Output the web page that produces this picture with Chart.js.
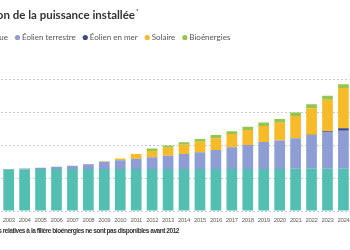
<!DOCTYPE html>
<html>
<head>
<meta charset="utf-8">
<script src="https://cdn.jsdelivr.net/npm/chart.js@4"></script>
<style>
  html, body { margin: 0; padding: 0; background: #fff; overflow: hidden; width: 350px; height: 250px; }
  canvas { position: absolute; left: 0; top: 0; }
</style>
</head>
<body>
<canvas id="chart" width="352" height="250"></canvas>
<script>
// puissance installée (GW), France
const years = ['2003', '2004', '2005', '2006', '2007', '2008', '2009', '2010', '2011', '2012', '2013',
  '2014', '2015', '2016', '2017', '2018', '2019', '2020', '2021', '2022', '2023', '2024'];
const hydraulique = [25.3, 25.3, 25.4, 25.4, 25.4, 25.4, 25.4, 25.4, 25.4, 25.4, 25.5,
  25.5, 25.5, 25.5, 25.5, 25.5, 25.5, 25.5, 25.6, 25.6, 25.6, 25.6];
const eolienTerrestre = [0.2, 0.4, 0.8, 1.4, 2.0, 3.0, 4.4, 5.4, 6.3, 7.2, 8.0,
  9.0, 10.1, 11.5, 13.1, 14.5, 16.3, 17.3, 18.5, 20.1, 22.0, 23.0];
const eolienMer = [0, 0, 0, 0, 0, 0, 0, 0, 0, 0, 0,
  0, 0, 0, 0, 0, 0, 0, 0, 0.5, 0.8, 1.5];
const solaire = [0, 0, 0, 0, 0, 0.1, 0.3, 1.0, 2.8, 3.8, 4.8,
  5.6, 6.4, 7.1, 8.1, 9.1, 9.7, 10.7, 13.5, 16.1, 19.0, 24.5];
const bioenergies = [null, null, null, null, null, null, null, null, null, 1.5, 1.4,
  1.5, 1.6, 1.9, 1.6, 2.0, 2.2, 2.3, 2.1, 2.4, 2.4, 2.2];
const yTicks = { min: 0, max: 80, step: 20 };

const seriesNames = ['Hydraulique', 'Éolien terrestre', 'Éolien en mer', 'Solaire', 'Bioénergies'];
const colors = ['#52bfb2', '#8e9dd3', '#3f4b86', '#f7bb29', '#94c64e'];
const titleText = 'Évolution de la puissance installée';
const noteText = '* Les données relatives à la filière bioénergies ne sont pas disponibles avant 2012';

const decorPlugin = {
  id: 'decor',
  beforeDraw(chart) {
    // chiffres plus serrés, comme la police condensée d'origine
    chart.ctx.letterSpacing = '-0.35px';
  },
  afterDraw(chart) {
    const ctx = chart.ctx;
    ctx.save();
    ctx.letterSpacing = '0px';
    // titre (coupé à gauche)
    ctx.fillStyle = '#333';
    ctx.font = 'bold 11.5px Lato';
    ctx.textBaseline = 'alphabetic';
    ctx.textAlign = 'right';
    ctx.fillText(titleText, 135, 18.5);
    ctx.font = 'bold 6px Lato';
    ctx.textAlign = 'left';
    ctx.fillText('*', 136, 13);

    // légende
    ctx.font = '8px Lato';
    ctx.textBaseline = 'middle';
    const legendY = 37.5;
    let x = 8 - ctx.measureText(seriesNames[0]).width;
    seriesNames.forEach((name, i) => {
      if (i > 0) {
        const dotX = x + 9.5;
        ctx.fillStyle = colors[i];
        ctx.beginPath();
        ctx.arc(dotX, legendY, 2.6, 0, Math.PI * 2);
        ctx.fill();
        x = dotX + 4.5;
      }
      ctx.fillStyle = '#555';
      ctx.textAlign = 'left';
      ctx.fillText(name, x, legendY);
      x += ctx.measureText(name).width;
    });

    // note
    ctx.font = 'bold 6.5px "Liberation Sans"';
    ctx.letterSpacing = '-0.45px';
    ctx.fillStyle = '#333';
    ctx.textAlign = 'right';
    ctx.fillText(noteText, 179, 231);
    ctx.restore();
  }
};

const seriesData = [hydraulique, eolienTerrestre, eolienMer, solaire, bioenergies];

new Chart(document.getElementById('chart'), {
  type: 'bar',
  data: {
    labels: years,
    datasets: seriesData.map((d, i) => ({
      label: seriesNames[i],
      data: d,
      backgroundColor: colors[i],
      borderWidth: 0,
      categoryPercentage: 1,
      barPercentage: 0.67
    }))
  },
  options: {
    responsive: false,
    animation: false,
    devicePixelRatio: 1,
    layout: { padding: { top: 79, left: 0.7, right: 0.6, bottom: 0 } },
    plugins: { legend: { display: false }, title: { display: false }, tooltip: { enabled: false } },
    scales: {
      x: {
        stacked: true,
        grid: { display: false, drawTicks: true, tickLength: 6 },
        border: { display: false },
        ticks: { autoSkip: false, maxRotation: 0, padding: 0, color: '#666', font: { family: 'Liberation Sans', size: 6 } },
        afterFit: (s) => { s.height = 39; }
      },
      y: {
        stacked: true,
        min: yTicks.min,
        max: yTicks.max,
        ticks: { display: false, stepSize: yTicks.step },
        grid: { color: '#c9c9c9', lineWidth: 1, drawTicks: false },
        border: { display: false, dash: [2, 2] },
        afterFit: (s) => { s.width = 0; }
      }
    }
  },
  plugins: [decorPlugin]
});
</script>
</body>
</html>
